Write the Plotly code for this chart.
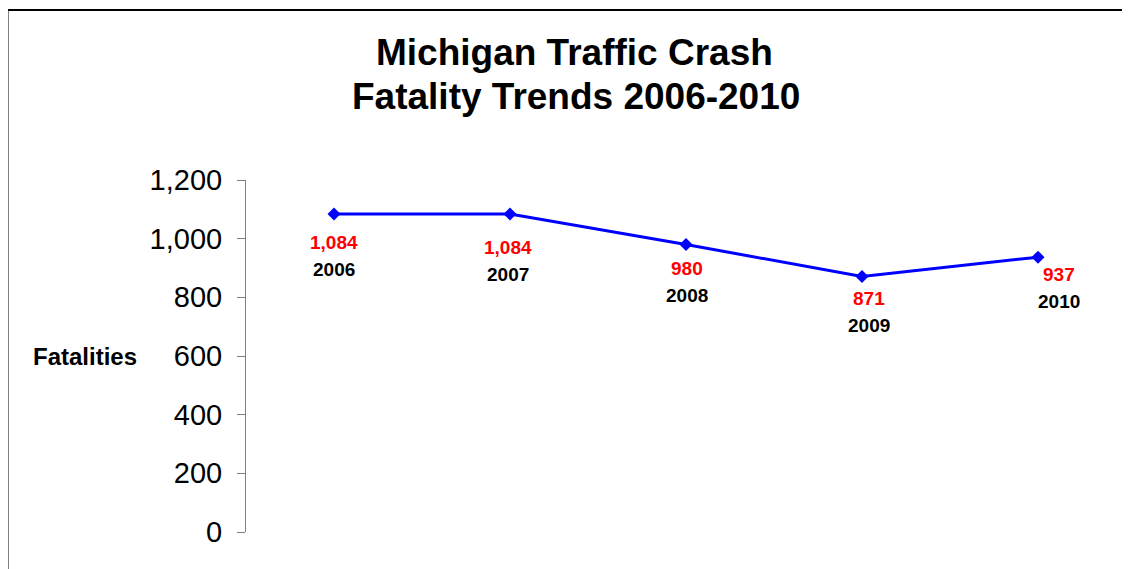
import plotly.graph_objects as go

years = ["2006", "2007", "2008", "2009", "2010"]
fatalities = [1084, 1084, 980, 871, 937]
value_labels = ["1,084", "1,084", "980", "871", "937"]
y_ticks = [0, 200, 400, 600, 800, 1000, 1200]

# label offsets in pixels (style, not data)
label_dx = [0, -2, 1, 7, 21]
label_dy = [28, 33, 24, 22, 17]

OFF = 8  # page body margin
W, H = 1130 - OFF, 569 - OFF
# plot area in page pixels: x 246..1126, y 180..532
L = 246 - OFF
T = 180 - OFF
R = W - (1126 - OFF)
B = H - (532 - OFF)
PW, PH = W - L - R, H - T - B


def px_x(x):  # page px -> paper
    return (x - OFF - L) / PW


def px_y(y):
    return (H - B - (y - OFF)) / PH


FONT = "Liberation Sans, Arial, sans-serif"

fig = go.Figure()
fig.add_trace(go.Scatter(
    x=years, y=fatalities, mode="lines+markers",
    line=dict(color="#0000FF", width=3),
    marker=dict(symbol="diamond", size=10, color="#0000FF"),
    hoverinfo="skip", showlegend=False,
))

annotations = []
for i, (yr, v, lab, dx, dy) in enumerate(zip(years, fatalities, value_labels, label_dx, label_dy)):
    annotations.append(dict(x=i, y=v, xref="x", yref="y", text="<b>" + lab + "</b>", showarrow=False,
                            xanchor="center", yanchor="middle",
                            xshift=dx, yshift=-dy, font=dict(family=FONT, size=19, color="#FF0000")))
    annotations.append(dict(x=i, y=v, xref="x", yref="y", text="<b>" + yr + "</b>", showarrow=False,
                            xanchor="center", yanchor="middle",
                            xshift=dx, yshift=-dy - 27, font=dict(family=FONT, size=19, color="#000000")))

annotations.append(dict(x=px_x(574), y=px_y(52), xref="paper", yref="paper",
                        text="<b>Michigan Traffic Crash</b>", xanchor="center", yanchor="middle",
                        showarrow=False, font=dict(family=FONT, size=37, color="#000000")))
annotations.append(dict(x=px_x(576), y=px_y(97), xref="paper", yref="paper",
                        text="<b>Fatality Trends 2006-2010</b>", xanchor="center", yanchor="middle",
                        showarrow=False, font=dict(family=FONT, size=37, color="#000000")))
annotations.append(dict(x=px_x(85), y=px_y(356), xref="paper", yref="paper", text="<b>Fatalities</b>",
                        xanchor="center", yanchor="middle",
                        showarrow=False, font=dict(family=FONT, size=24, color="#000000")))

fig.update_layout(
    width=W, height=H,
    margin=dict(l=L, r=R, t=T, b=B, autoexpand=False),
    paper_bgcolor="white", plot_bgcolor="white",
    xaxis=dict(type="category", range=[-0.5, 4.5], showticklabels=False, showline=False,
               showgrid=False, zeroline=False, ticks=""),
    yaxis=dict(range=[0, 1200], tickvals=y_ticks, tickformat=",", showgrid=False, zeroline=False,
               showline=True, linecolor="#808080", linewidth=1,
               ticks="outside", ticklen=8, tickcolor="#808080", tickwidth=1,
               ticklabelstandoff=9,
               tickfont=dict(family=FONT, size=29, color="#000000")),
    annotations=annotations,
    shapes=[dict(type="rect", xref="paper", yref="paper", x0=px_x(7.5), x1=px_x(1145),
                 y0=px_y(600), y1=px_y(10), line=dict(color="#000000", width=2),
                 fillcolor="rgba(0,0,0,0)")],
)

fig.write_html("out.html")
